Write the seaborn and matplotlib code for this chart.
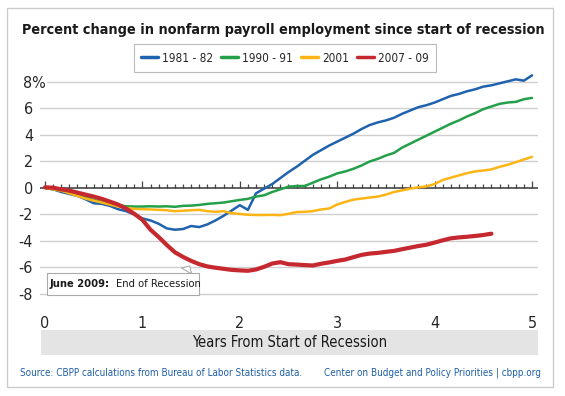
import numpy as np
import pandas as pd
import matplotlib
matplotlib.use("Agg")
import matplotlib.pyplot as plt
import matplotlib.transforms as mtransforms
from matplotlib.patches import Rectangle
import seaborn as sns

# valores (cambio % mensual desde el inicio de la recesion)
rec_1981 = [0, -0.1, -0.3, -0.45, -0.6, -0.85, -1.15, -1.2, -1.35, -1.6, -1.75, -2.0, -2.3,
            -2.45, -2.7, -3.05, -3.15, -3.1, -2.87, -2.95, -2.75, -2.45, -2.1, -1.7, -1.3,
            -1.65, -0.4, -0.05, 0.3, 0.75, 1.2, 1.6, 2.05, 2.5, 2.85, 3.2, 3.5, 3.8, 4.1,
            4.45, 4.75, 4.95, 5.1, 5.3, 5.6, 5.85, 6.1, 6.25, 6.45, 6.7, 6.95, 7.1, 7.3,
            7.45, 7.65, 7.75, 7.9, 8.05, 8.2, 8.1, 8.5]
rec_1990 = [0, -0.1, -0.2, -0.35, -0.5, -0.7, -0.9, -1.05, -1.2, -1.3, -1.38, -1.4, -1.4,
            -1.38, -1.4, -1.38, -1.42, -1.35, -1.33, -1.28, -1.2, -1.15, -1.1, -1.0, -0.9,
            -0.82, -0.65, -0.55, -0.3, -0.1, 0.1, 0.15, 0.15, 0.4, 0.65, 0.85, 1.1, 1.25,
            1.45, 1.7, 2.0, 2.2, 2.45, 2.65, 3.05, 3.35, 3.65, 3.95, 4.25, 4.55, 4.85, 5.1,
            5.4, 5.65, 5.95, 6.15, 6.35, 6.45, 6.5, 6.7, 6.8]
rec_2001 = [0, -0.1, -0.2, -0.4, -0.6, -0.8, -0.95, -1.1, -1.25, -1.4, -1.5, -1.58, -1.6,
            -1.62, -1.65, -1.68, -1.75, -1.72, -1.68, -1.65, -1.75, -1.8, -1.75, -1.9, -1.96,
            -2.02, -2.04, -2.04, -2.03, -2.05, -1.95, -1.82, -1.8, -1.75, -1.62, -1.55, -1.25,
            -1.05, -0.88, -0.8, -0.72, -0.65, -0.5, -0.3, -0.18, -0.05, 0.05, 0.12, 0.3, 0.6,
            0.78, 0.95, 1.12, 1.25, 1.32, 1.4, 1.6, 1.75, 1.95, 2.15, 2.35]
rec_2007 = [0.05, 0.02, -0.1, -0.2, -0.35, -0.5, -0.65, -0.82, -1.03, -1.25, -1.55, -1.95,
            -2.4, -3.15, -3.7, -4.3, -4.85, -5.2, -5.5, -5.75, -5.92, -6.02, -6.1, -6.18,
            -6.22, -6.25, -6.15, -5.95, -5.7, -5.6, -5.75, -5.78, -5.82, -5.85, -5.72, -5.62,
            -5.5, -5.4, -5.22, -5.05, -4.95, -4.9, -4.82, -4.75, -4.62, -4.5, -4.38, -4.28,
            -4.12, -3.95, -3.8, -3.73, -3.68, -3.62, -3.55, -3.45]

etiquetas = ["1981 - 82", "1990 - 91", "2001", "2007 - 09"]
series = [rec_1981, rec_1990, rec_2001, rec_2007]
colores = ["#1f62ad", "#23a049", "#fdb515", "#c5282e"]
grosores = [1.8, 1.8, 1.8, 3.0]
y_ticks = [-8, -6, -4, -2, 0, 2, 4, 6, 8]
x_ticks = [0, 1, 2, 3, 4, 5]
mes_fin = 18  # junio 2009 = 18 meses despues de dic 2007

filas = []
for lab, vals in zip(etiquetas, series):
    for m, v in enumerate(vals):
        filas.append({"Recesion": lab, "Anios": m / 12, "Pct": v})
df = pd.DataFrame(filas)

sns.set_theme(style="white")
plt.rcParams["font.family"] = ["DejaVu Sans"]
plt.rcParams["font.stretch"] = "condensed"

fig = plt.figure(figsize=(5.65, 3.96), dpi=100)
ax = fig.add_axes([40 / 565, 0.2409, 498 / 565, 0.5855])

for s in ax.spines.values():
    s.set_visible(False)
ax.set_xlim(-0.0513, 5.0616)
ax.set_ylim(-8.5, 9.0)

for yv in y_ticks:
    if yv != 0:
        ax.axhline(yv, color="#cfcfcf", lw=1, zorder=0)
ax.axhline(0, color="#555555", lw=1.3, zorder=1)
meses = np.arange(0, 61)
ax.vlines(meses / 12, 0, np.where(meses % 12 == 0, 0.55, 0.3), color="#444444", lw=0.9, zorder=1)

for lab, col, lw in zip(etiquetas, colores, grosores):
    sns.lineplot(data=df[df["Recesion"] == lab], x="Anios", y="Pct", color=col, lw=lw,
                 ax=ax, label=lab, zorder=3)

ax.set_xticks(x_ticks)
ax.set_xticklabels([str(t) for t in x_ticks], fontsize=11.5)
ax.set_yticks(y_ticks)
ax.set_yticklabels([str(t) if t != 8 else "8%" for t in y_ticks], fontsize=11.5)
ax.tick_params(axis="both", length=0)
ax.tick_params(axis="x", pad=11)
ax.tick_params(axis="y", pad=5)
for lbl in ax.get_yticklabels():
    if lbl.get_text() == "8%":
        lbl.set_transform(lbl.get_transform() + mtransforms.ScaledTranslation(13 / 100, 0, fig.dpi_scale_trans))
        lbl.set_bbox(dict(facecolor="white", edgecolor="none", pad=0.5))
ax.set_xlabel("")
ax.set_ylabel("")

# banda gris del eje x
ax.add_patch(Rectangle((0.002, -0.2346), 0.998, 0.1078, transform=ax.transAxes,
                       facecolor="#e4e4e4", edgecolor="none", clip_on=False))
ax.text(0.502, -0.181, "Years From Start of Recession", transform=ax.transAxes,
        ha="center", va="center", fontsize=10.5, color="#1a1a1a")

# nota de fin de recesion
ax.add_patch(Rectangle((0.02, -8.08), 1.56, 1.66, facecolor="white", edgecolor="#aaaaaa",
                       lw=0.8, zorder=5))
ax.annotate("", xy=(mes_fin / 12, rec_2007[mes_fin] - 0.2), xytext=(1.44, -6.45),
            arrowprops=dict(arrowstyle="wedge,tail_width=0.7,shrink_factor=0.5", fc="white",
                            ec="#aaaaaa", lw=0.8), zorder=4)
t1 = ax.text(0.05, -7.28, "June 2009:", fontsize=8, fontweight="bold", va="center", ha="left",
             color="#1a1a1a", zorder=6)
ax.annotate("End of Recession", xy=(1, 0.5), xycoords=t1, xytext=(4, 0), textcoords="offset points",
            va="center", ha="left", fontsize=8, color="#1a1a1a", zorder=6)

leg = ax.legend(loc="center", bbox_to_anchor=(285 / 565, 1 - 58 / 396), bbox_transform=fig.transFigure,
                ncol=4, fontsize=8.5, frameon=True, handlelength=1.4, handletextpad=0.35,
                columnspacing=0.7, borderpad=0.6, fancybox=False, shadow=False)
leg.get_frame().set_edgecolor("#aaaaaa")
leg.get_frame().set_linewidth(0.8)
for h in leg.get_lines():
    h.set_linewidth(2.5)

fig.text(283 / 565, 1 - 30 / 396, "Percent change in nonfarm payroll employment since start of recession",
         ha="center", va="center", fontsize=10.4, fontweight="bold", color="#1a1a1a")

fig.text(20 / 565, 1 - 373 / 396, "Source: CBPP calculations from Bureau of Labor Statistics data.",
         ha="left", va="center", fontsize=7.1, color="#1d5fa6")
fig.text(541 / 565, 1 - 373 / 396, "Center on Budget and Policy Priorities | cbpp.org",
         ha="right", va="center", fontsize=7.1, color="#1d5fa6")

fig.add_artist(Rectangle((7 / 565, 1 - 387 / 396), 546 / 565, 379 / 396, transform=fig.transFigure,
                         facecolor="none", edgecolor="#cccccc", lw=1))

fig.savefig("out.png", dpi=100)
